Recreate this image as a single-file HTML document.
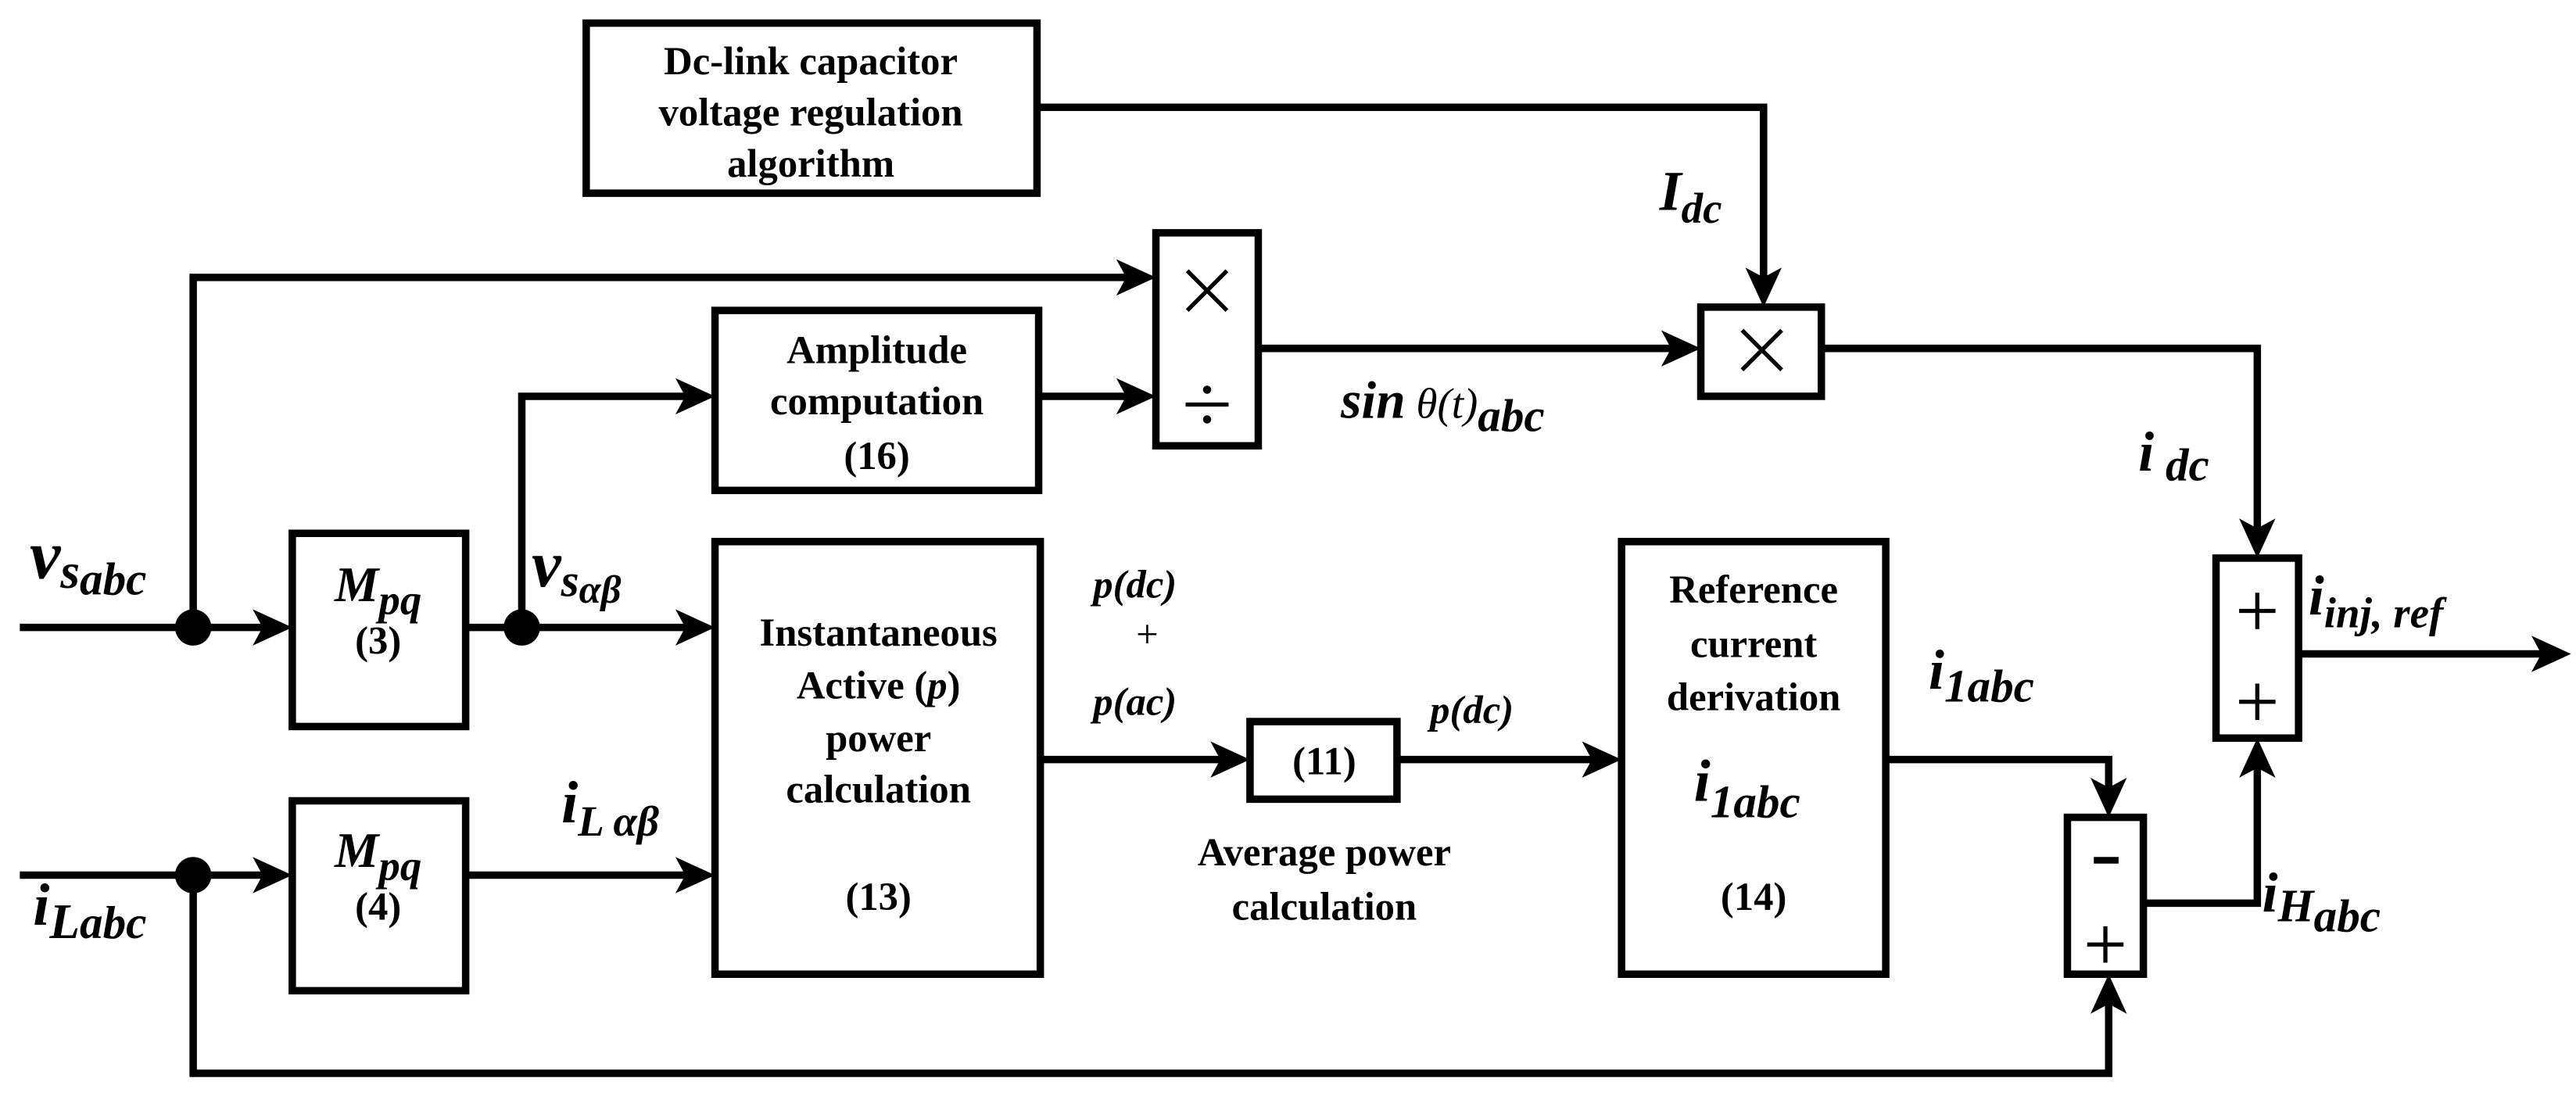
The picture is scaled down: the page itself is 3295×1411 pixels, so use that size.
<!DOCTYPE html>
<html><head><meta charset="utf-8"><style>
html,body{margin:0;padding:0;background:#fff;}
svg{display:block;}
svg text{font-family:"Liberation Serif","Times New Roman","DejaVu Serif",serif;font-weight:bold;fill:#000;}
.b{font-size:24px;text-anchor:middle;}
.i{font-style:italic;}
</style></head><body>
<svg width="3295" height="1411" viewBox="0 0 1560 668" preserveAspectRatio="none" xmlns="http://www.w3.org/2000/svg" font-family="Liberation Serif, serif">
<g fill="none" stroke="#000" stroke-width="4.5" stroke-linejoin="miter">
<rect x="355" y="14" width="273" height="103"/>
<rect x="1030" y="186" width="73" height="54"/>
<rect x="1342" y="338" width="50" height="109"/>
<rect x="700" y="141" width="62" height="129"/>
<rect x="433" y="188" width="196" height="109"/>
<rect x="177" y="323" width="105" height="117"/>
<rect x="433" y="328" width="197" height="262"/>
<rect x="757" y="437" width="89" height="47"/>
<rect x="982" y="328" width="160" height="262"/>
<rect x="1252" y="495" width="46" height="95"/>
<rect x="177" y="485" width="105" height="115"/>
<polyline points="628,65 1068,65 1068,170"/>
<polyline points="762,211 1015,211"/>
<polyline points="1103,211 1367,211 1367,323"/>
<polyline points="1392,396 1540,396"/>
<polyline points="117,380 117,168 685,168"/>
<polyline points="629,240 685,240"/>
<polyline points="316,380 316,240 418,240"/>
<polyline points="12,380 162,380"/>
<polyline points="282,380 418,380"/>
<polyline points="630,460 742,460"/>
<polyline points="846,460 967,460"/>
<polyline points="1142,460 1277,460 1277,480"/>
<polyline points="1298,547 1367,547 1367,462"/>
<polyline points="12,530 162,530"/>
<polyline points="282,530 418,530"/>
<polyline points="117,530 117,650 1277,650 1277,605"/>
<g stroke-width="2.5">
<path d="M1055,200 L1079,224 M1079,200 L1055,224"/>
<path d="M719,164 L743,188 M743,164 L719,188"/>
<path d="M718,245 L744,245"/>
<path d="M1356,370 L1378,370 M1367,359 L1367,381"/>
<path d="M1356,425 L1378,425 M1367,414 L1367,436"/>
<path d="M1264,572 L1286,572 M1275,561 L1275,583"/>
</g>
<path d="M1268,521 L1283,521" stroke-width="4"/>
</g>
<g fill="#000">
<circle cx="731" cy="236" r="2.5"/><circle cx="731" cy="254" r="2.5"/>
<circle cx="117" cy="380" r="11"/><circle cx="316" cy="380" r="11"/><circle cx="117" cy="530" r="11"/>
<polygon points="1068,186 1057,162 1068,168 1079,162"/>
<polygon points="1030,211 1006,200 1012,211 1006,222"/>
<polygon points="1367,338 1356,314 1367,320 1378,314"/>
<polygon points="1557,396 1533,385 1539,396 1533,407"/>
<polygon points="700,168 676,157 682,168 676,179"/>
<polygon points="700,240 676,229 682,240 676,251"/>
<polygon points="433,240 409,229 415,240 409,251"/>
<polygon points="177,380 153,369 159,380 153,391"/>
<polygon points="433,380 409,369 415,380 409,391"/>
<polygon points="757,460 733,449 739,460 733,471"/>
<polygon points="982,460 958,449 964,460 958,471"/>
<polygon points="1277,495 1266,471 1277,477 1288,471"/>
<polygon points="1367,447 1356,471 1367,465 1378,471"/>
<polygon points="177,530 153,519 159,530 153,541"/>
<polygon points="433,530 409,519 415,530 409,541"/>
<polygon points="1277,590 1266,614 1277,608 1288,614"/>
</g>
<text class="b" x="491" y="45">Dc-link capacitor</text>
<text class="b" x="491" y="76">voltage regulation</text>
<text class="b" x="491" y="107">algorithm</text>
<text class="b" x="531" y="220">Amplitude</text>
<text class="b" x="531" y="251">computation</text>
<text class="b" x="531" y="284">(16)</text>
<text class="b" x="532" y="391">Instantaneous</text>
<text class="b" x="532" y="423">Active (<tspan class="i">p</tspan>)</text>
<text class="b" x="532" y="455">power</text>
<text class="b" x="532" y="486">calculation</text>
<text class="b" x="532" y="551">(13)</text>
<text class="b" x="802" y="469">(11)</text>
<text class="b" x="802" y="524">Average power</text>
<text class="b" x="802" y="557">calculation</text>
<text class="b" x="1062" y="365">Reference</text>
<text class="b" x="1062" y="398">current</text>
<text class="b" x="1062" y="430">derivation</text>
<text class="b" x="1062" y="551">(14)</text>
<text class="b i" x="229" y="364" font-size="30" style="font-size:30px">M<tspan style="font-size:26px" dy="8">pq</tspan></text>
<text class="b" x="229" y="396">(3)</text>
<text class="b i" x="229" y="525" style="font-size:30px">M<tspan style="font-size:26px" dy="8">pq</tspan></text>
<text class="b" x="229" y="557">(4)</text>
<text class="i" x="1058" y="485" style="font-size:36px" text-anchor="middle">i<tspan style="font-size:28px" dy="10">1abc</tspan></text>
<text class="i" x="662" y="362" style="font-size:24px">p(dc)</text>
<text x="688" y="392" style="font-size:24px;font-weight:normal">+</text>
<text class="i" x="662" y="433" style="font-size:24px">p(ac)</text>
<text class="i" x="866" y="438" style="font-size:24px">p(dc)</text>
<text class="i" x="18" y="350" style="font-size:42px">v<tspan style="font-size:30px" dy="6">s</tspan><tspan style="font-size:28px" dy="4">abc</tspan></text>
<text class="i" x="322" y="355" style="font-size:40px">v<tspan style="font-size:28px" dy="6">s</tspan><tspan style="font-size:24px" dy="4">αβ</tspan></text>
<text class="i" x="340" y="498" style="font-size:36px">i<tspan style="font-size:26px" dy="8">L αβ</tspan></text>
<text class="i" x="20" y="560" style="font-size:36px">i<tspan style="font-size:30px" dy="8">L</tspan><tspan style="font-size:28px">abc</tspan></text>
<text class="i" x="1005" y="127" style="font-size:34px">I<tspan style="font-size:26px" dy="8">dc</tspan></text>
<text class="i" x="812" y="253" style="font-size:32px">sin<tspan style="font-size:26px;font-weight:normal"> θ(t)</tspan><tspan style="font-size:28px" dy="8">abc</tspan></text>
<text class="i" x="1295" y="285" style="font-size:34px">i<tspan style="font-size:28px" dy="6"> dc</tspan></text>
<text class="i" x="1398" y="372" style="font-size:34px">i<tspan style="font-size:26px" dy="8">inj, ref</tspan></text>
<text class="i" x="1168" y="417" style="font-size:34px">i<tspan style="font-size:28px" dy="8">1abc</tspan></text>
<text class="i" x="1370" y="552" style="font-size:34px">i<tspan style="font-size:28px" dy="6">H</tspan><tspan style="font-size:28px" dy="6">abc</tspan></text>
</svg>
</body></html>
